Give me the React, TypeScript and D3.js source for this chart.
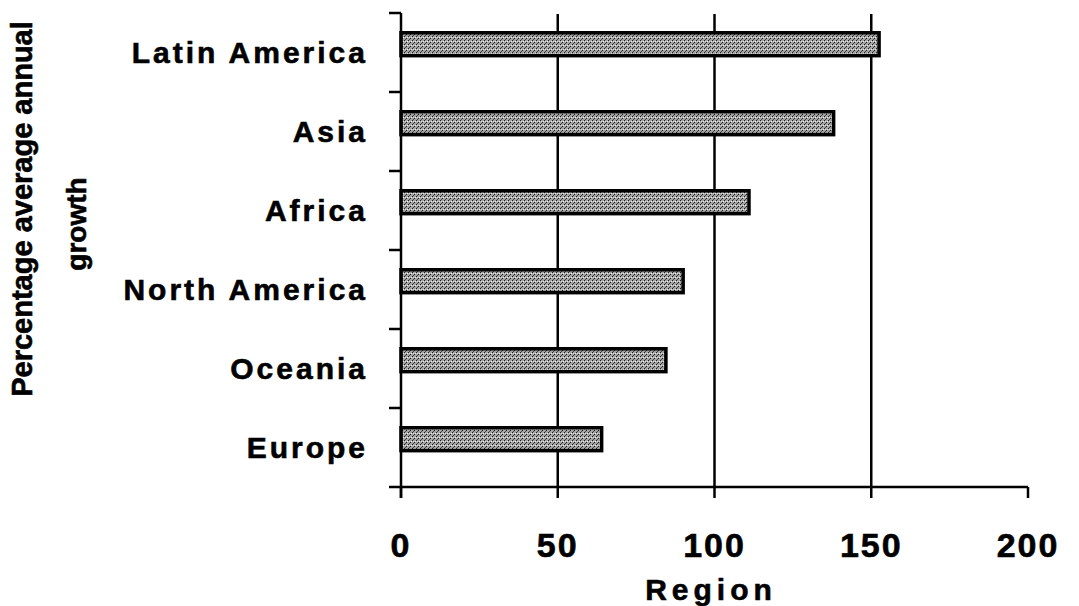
import React from "react";
import * as d3 from "d3";

const categories = ["Latin America", "Asia", "Africa", "North America", "Oceania", "Europe"];
const values = [152.5, 138, 111, 90, 84.5, 64];
const xTicks = [0, 50, 100, 150, 200];
const gridTicks = [50, 100, 150];
const xTitle = "Region";
const yTitle1 = "Percentage average annual";
const yTitle2 = "growth";

const W = 1079;
const H = 606;
const FONT = "'Liberation Sans', Arial, Helvetica, sans-serif";

export default function App() {
  const x = d3.scaleLinear().domain([0, 200]).range([401, 1028]);
  const y = d3.scaleBand<string>().domain(categories).range([13, 487]).padding(0);
  const bw = y.bandwidth();
  const barOff = bw * 0.25;
  const barH = bw * 0.29;
  const axisY = 487;
  const bounds = [...categories.map((c) => y(c) as number), axisY];
  const heavy = { stroke: "#000", strokeWidth: 0.6 };

  return (
    <svg
      width={W}
      height={H}
      viewBox={`0 0 ${W} ${H}`}
      style={{ position: "absolute", left: 0, top: 0, background: "#fff" }}
    >
      <defs>
        <pattern id="stipple" width="4" height="4" patternUnits="userSpaceOnUse">
          <rect width="4" height="4" fill="#a4a4a4" />
          <rect x="0" y="0" width="1" height="1" fill="#1a1a1a" />
          <rect x="2" y="2" width="1" height="1" fill="#1a1a1a" />
          <rect x="1" y="3" width="1" height="1" fill="#444" />
          <rect x="3" y="1" width="1" height="1" fill="#eee" />
          <rect x="1" y="1" width="1" height="1" fill="#ddd" />
        </pattern>
      </defs>

      {/* gridlines */}
      {gridTicks.map((t) => (
        <line key={"g" + t} x1={x(t)} x2={x(t)} y1={14} y2={axisY} stroke="#000" strokeWidth={2.5} />
      ))}

      {/* bars */}
      {categories.map((c, i) => (
        <rect
          key={c}
          x={x(0)}
          y={(y(c) as number) + barOff}
          width={x(values[i]) - x(0)}
          height={barH}
          fill="url(#stipple)"
          stroke="#000"
          strokeWidth={3.5}
        />
      ))}

      {/* y axis */}
      <line x1={x(0)} x2={x(0)} y1={13} y2={498} stroke="#000" strokeWidth={2.5} />
      {bounds.map((b, i) => (
        <line key={"yt" + i} x1={389} x2={x(0)} y1={b} y2={b} stroke="#000" strokeWidth={2.5} />
      ))}

      {/* x axis */}
      <line x1={x(0)} x2={x(200)} y1={axisY} y2={axisY} stroke="#000" strokeWidth={2.5} />
      {xTicks.map((t) => (
        <line key={"xt" + t} x1={x(t)} x2={x(t)} y1={axisY} y2={axisY + 11} stroke="#000" strokeWidth={2.5} />
      ))}

      {/* x tick labels */}
      {xTicks.map((t) => (
        <text
          key={"xl" + t}
          x={x(t)}
          y={557}
          textAnchor="middle"
          fontFamily={FONT}
          fontWeight="bold"
          fontSize={34}
          letterSpacing={2}
          fill="#000"
          {...heavy}
        >
          {t}
        </text>
      ))}

      {/* category labels */}
      {categories.map((c) => (
        <text
          key={"cl" + c}
          x={368}
          y={(y(c) as number) + bw / 2 + 10.5}
          textAnchor="end"
          fontFamily={FONT}
          fontWeight="bold"
          fontSize={30}
          letterSpacing={3}
          fill="#000"
          {...heavy}
        >
          {c}
        </text>
      ))}

      {/* x title */}
      <text
        x={711}
        y={600}
        textAnchor="middle"
        fontFamily={FONT}
        fontWeight="bold"
        fontSize={30}
        letterSpacing={5}
        fill="#000"
        {...heavy}
      >
        {xTitle}
      </text>

      {/* y title */}
      <text
        transform={`translate(32, 209) rotate(-90)`}
        textAnchor="middle"
        fontFamily={FONT}
        fontWeight="bold"
        fontSize={29}
        fill="#000"
        {...heavy}
      >
        {yTitle1}
      </text>
      <text
        transform={`translate(86, 224) rotate(-90)`}
        textAnchor="middle"
        fontFamily={FONT}
        fontWeight="bold"
        fontSize={28}
        fill="#000"
        {...heavy}
      >
        {yTitle2}
      </text>
    </svg>
  );
}
